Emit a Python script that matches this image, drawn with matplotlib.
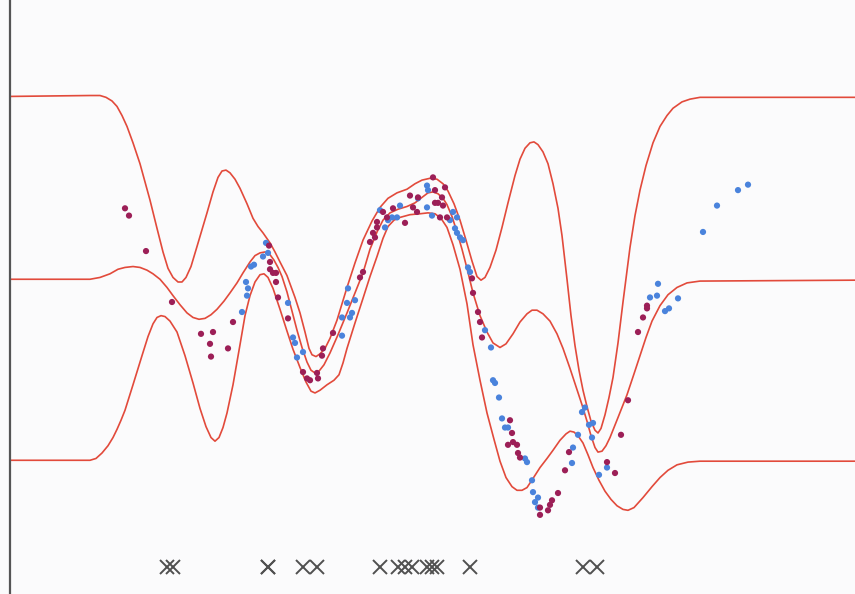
import numpy as np
import matplotlib
matplotlib.use("Agg")
import matplotlib.pyplot as plt

# ----------------------------
# Values
# ----------------------------
# predictive mean
mean_x = [0, 0.80, 0.90, 1.00, 1.08, 1.15, 1.23, 1.30, 1.37, 1.43, 1.50, 1.57, 1.63, 1.70,
          1.77, 1.83, 1.89, 1.95, 2.01, 2.07, 2.14, 2.20, 2.27, 2.33, 2.40, 2.45, 2.50, 2.55,
          2.60, 2.64, 2.68, 2.72, 2.77, 2.82, 2.87, 2.92, 2.97, 3.01, 3.05, 3.09, 3.14, 3.20,
          3.28, 3.37, 3.45, 3.53, 3.60, 3.67, 3.73, 3.80, 3.88, 3.97, 4.05, 4.12, 4.18, 4.23,
          4.28, 4.33, 4.37, 4.42, 4.47, 4.52, 4.57, 4.63, 4.70, 4.77, 4.83, 4.90, 4.96, 5.03,
          5.10, 5.17, 5.22, 5.27, 5.33, 5.40, 5.47, 5.53, 5.60, 5.66, 5.72, 5.77, 5.81, 5.85,
          5.88, 5.92, 5.96, 6.00, 6.08, 6.17, 6.24, 6.30, 6.36, 6.42, 6.50, 6.58, 6.67, 6.77,
          6.90, 8.45]
mean_y = [0, 0.00, 0.02, 0.06, 0.11, 0.13, 0.14, 0.13, 0.10, 0.06, 0.00, -0.09, -0.18, -0.28,
          -0.37, -0.42, -0.44, -0.43, -0.39, -0.33, -0.24, -0.15, -0.04, 0.07, 0.19, 0.26, 0.29, 0.30,
          0.27, 0.21, 0.13, 0.03, -0.14, -0.35, -0.56, -0.75, -0.91, -1.00, -1.03, -1.01, -0.94, -0.81,
          -0.61, -0.37, -0.15, 0.07, 0.33, 0.52, 0.65, 0.73, 0.77, 0.80, 0.84, 0.90, 0.95, 0.96,
          0.94, 0.89, 0.82, 0.69, 0.52, 0.33, 0.12, -0.15, -0.40, -0.58, -0.70, -0.75, -0.71, -0.60,
          -0.47, -0.38, -0.34, -0.34, -0.38, -0.46, -0.60, -0.76, -0.98, -1.18, -1.38, -1.56, -1.72, -1.85,
          -1.90, -1.89, -1.83, -1.74, -1.52, -1.27, -1.04, -0.84, -0.64, -0.46, -0.29, -0.17, -0.09, -0.04,
          -0.02, -0.01]

# upper 2-sigma line
upper_x = [0, 0.80, 0.90, 0.96, 1.02, 1.07, 1.12, 1.17, 1.23, 1.30, 1.40, 1.47, 1.53, 1.58,
           1.63, 1.68, 1.72, 1.76, 1.81, 1.87, 1.97, 2.03, 2.08, 2.12, 2.16, 2.20, 2.25, 2.30,
           2.37, 2.43, 2.48, 2.53, 2.60, 2.65, 2.70, 2.77, 2.85, 2.90, 2.95, 2.99, 3.02, 3.06,
           3.10, 3.15, 3.20, 3.27, 3.37, 3.45, 3.53, 3.62, 3.70, 3.78, 3.87, 3.97, 4.05, 4.12,
           4.20, 4.27, 4.33, 4.38, 4.44, 4.50, 4.56, 4.62, 4.67, 4.71, 4.75, 4.80, 4.86, 4.92,
           4.98, 5.05, 5.10, 5.15, 5.20, 5.24, 5.28, 5.33, 5.38, 5.43, 5.48, 5.52, 5.57, 5.61,
           5.65, 5.69, 5.73, 5.77, 5.81, 5.85, 5.88, 5.91, 5.95, 5.99, 6.03, 6.08, 6.13, 6.20,
           6.25, 6.30, 6.36, 6.43, 6.50, 6.57, 6.63, 6.72, 6.80, 6.90, 8.45]
upper_y = [2.01, 2.02, 2.02, 2.00, 1.96, 1.90, 1.80, 1.68, 1.50, 1.27, 0.87, 0.56, 0.30, 0.12,
           0.02, -0.03, -0.03, 0.02, 0.14, 0.36, 0.73, 0.96, 1.12, 1.19, 1.20, 1.17, 1.10, 1.00,
           0.83, 0.67, 0.58, 0.51, 0.40, 0.30, 0.19, 0.04, -0.20, -0.37, -0.58, -0.76, -0.83, -0.85,
           -0.82, -0.76, -0.65, -0.45, -0.09, 0.18, 0.43, 0.64, 0.79, 0.89, 0.95, 0.99, 1.05, 1.09,
           1.11, 1.10, 1.05, 0.97, 0.83, 0.65, 0.43, 0.20, 0.03, -0.01, 0.02, 0.13, 0.32, 0.57,
           0.84, 1.14, 1.32, 1.44, 1.50, 1.51, 1.48, 1.40, 1.27, 1.05, 0.78, 0.48, 0.00, -0.40,
           -0.73, -1.00, -1.22, -1.40, -1.56, -1.66, -1.69, -1.64, -1.49, -1.30, -1.08, -0.70, -0.25, 0.35,
           0.70, 0.98, 1.25, 1.50, 1.68, 1.80, 1.88, 1.95, 1.98, 2.00, 2.00]

# lower 2-sigma line
lower_x = [0, 0.80, 0.86, 0.92, 0.98, 1.03, 1.07, 1.11, 1.15, 1.23, 1.32, 1.38, 1.43, 1.47,
           1.51, 1.55, 1.60, 1.67, 1.75, 1.83, 1.90, 1.96, 2.01, 2.05, 2.09, 2.13, 2.17, 2.23,
           2.30, 2.35, 2.40, 2.45, 2.50, 2.54, 2.58, 2.63, 2.70, 2.77, 2.83, 2.90, 2.96, 3.01,
           3.05, 3.10, 3.17, 3.24, 3.29, 3.33, 3.37, 3.45, 3.53, 3.60, 3.67, 3.73, 3.78, 3.84,
           3.90, 4.00, 4.10, 4.18, 4.25, 4.31, 4.37, 4.43, 4.50, 4.57, 4.63, 4.70, 4.77, 4.84,
           4.90, 4.96, 5.02, 5.07, 5.12, 5.17, 5.23, 5.30, 5.37, 5.43, 5.50, 5.56, 5.60, 5.64,
           5.68, 5.73, 5.78, 5.83, 5.89, 5.95, 6.01, 6.07, 6.13, 6.18, 6.24, 6.33, 6.42, 6.50,
           6.58, 6.67, 6.78, 6.90, 8.45]
lower_y = [-1.99, -1.99, -1.97, -1.91, -1.83, -1.74, -1.65, -1.55, -1.44, -1.16, -0.84, -0.63, -0.49, -0.42,
           -0.40, -0.41, -0.46, -0.58, -0.84, -1.14, -1.42, -1.62, -1.74, -1.78, -1.74, -1.63, -1.47, -1.16,
           -0.72, -0.40, -0.18, -0.03, 0.05, 0.06, 0.02, -0.10, -0.33, -0.57, -0.77, -0.97, -1.13, -1.23,
           -1.25, -1.22, -1.16, -1.11, -1.05, -0.92, -0.76, -0.48, -0.21, 0.03, 0.25, 0.45, 0.58, 0.65,
           0.68, 0.71, 0.72, 0.73, 0.72, 0.67, 0.57, 0.38, 0.11, -0.27, -0.72, -1.11, -1.47, -1.76,
           -2.00, -2.18, -2.28, -2.32, -2.32, -2.29, -2.19, -2.07, -1.97, -1.88, -1.77, -1.70, -1.67, -1.68,
           -1.72, -1.80, -1.93, -2.07, -2.21, -2.33, -2.42, -2.49, -2.53, -2.54, -2.51, -2.40, -2.28, -2.18,
           -2.10, -2.04, -2.01, -2.00, -2.00]

# training data (purple) and test data (blue)
train_x = [1.15, 1.19, 1.36, 1.62, 1.91, 2.03, 2.00, 2.01, 2.18, 2.23, 2.59, 2.60, 2.60, 2.63,
           2.66, 2.66, 2.68, 2.78, 2.93, 2.97, 3.00, 3.07, 3.08, 3.12, 3.13, 3.23, 3.50, 3.53,
           3.60, 3.63, 3.65, 3.67, 3.67, 3.73, 3.77, 3.83, 3.95, 4.00, 4.03, 4.07, 4.08, 4.23,
           4.25, 4.35, 4.32, 4.25, 4.28, 4.33, 4.30, 4.37, 4.62, 4.63, 4.68, 4.70, 4.72, 5.00,
           5.02, 4.98, 5.03, 5.07, 5.08, 5.10, 5.30, 5.30, 5.40, 5.38, 5.42, 5.48, 5.55, 5.59,
           5.97, 6.05, 6.11, 6.18, 6.28, 6.33, 6.37, 6.37]
train_y = [0.78, 0.70, 0.31, -0.25, -0.60, -0.58, -0.71, -0.85, -0.76, -0.47, 0.37, 0.19, 0.11, 0.07,
           0.07, -0.03, -0.20, -0.43, -1.02, -1.09, -1.11, -1.03, -1.09, -0.84, -0.76, -0.59, 0.02, 0.08,
           0.41, 0.51, 0.46, 0.57, 0.63, 0.74, 0.68, 0.78, 0.62, 0.92, 0.79, 0.74, 0.90, 1.12,
           0.98, 1.01, 0.90, 0.84, 0.84, 0.81, 0.68, 0.68, 0.01, -0.15, -0.36, -0.47, -0.64, -1.55,
           -1.69, -1.82, -1.79, -1.82, -1.91, -1.96, -2.51, -2.59, -2.48, -2.54, -2.43, -2.35, -2.10, -1.90,
           -2.01, -2.13, -1.71, -1.33, -0.58, -0.42, -0.32, -0.29]

test_x = [2.32, 2.37, 2.36, 2.38, 2.41, 2.44, 2.53, 2.56, 2.58, 2.78, 2.83, 2.85, 2.87, 2.93,
          3.32, 3.32, 3.37, 3.38, 3.40, 3.42, 3.45, 3.70, 3.75, 3.78, 3.82, 3.87, 3.90, 4.08,
          4.17, 4.17, 4.18, 4.22, 4.40, 4.43, 4.47, 4.45, 4.47, 4.50, 4.53, 4.58, 4.60, 4.75,
          4.81, 4.83, 4.85, 4.89, 4.92, 4.95, 4.98, 5.15, 5.17, 5.22, 5.23, 5.28, 5.25, 5.28,
          5.62, 5.63, 5.68, 5.72, 5.75, 5.79, 5.83, 5.82, 5.89, 5.97, 6.40, 6.47, 6.48, 6.55,
          6.59, 6.68, 6.93, 7.07, 7.28, 7.38]
test_y = [-0.36, -0.18, -0.03, -0.10, 0.14, 0.16, 0.25, 0.40, 0.29, -0.26, -0.64, -0.70, -0.86, -0.80,
          -0.62, -0.42, -0.26, -0.10, -0.42, -0.37, -0.23, 0.76, 0.57, 0.65, 0.68, 0.68, 0.81, 0.89,
          1.03, 0.79, 0.98, 0.70, 0.65, 0.74, 0.68, 0.56, 0.51, 0.46, 0.43, 0.13, 0.08, -0.56,
          -0.75, -1.11, -1.14, -1.30, -1.53, -1.63, -1.63, -1.97, -2.01, -2.21, -2.34, -2.40, -2.45, -2.51,
          -2.02, -1.85, -1.71, -1.46, -1.41, -1.60, -1.58, -1.74, -2.15, -2.07, -0.20, -0.18, -0.05, -0.35,
          -0.32, -0.21, 0.52, 0.81, 0.98, 1.04]

# inducing input locations
inducing_x = [1.57, 1.63, 2.58, 2.58, 2.93, 3.07, 3.70, 3.88, 3.95, 4.02, 4.17, 4.22, 4.27,
              4.60, 5.73, 5.87]
inducing_level = -3.16

# ----------------------------
# Plot
# ----------------------------
bg = "#fbfbfc"
red = "#e24a3b"

fig = plt.figure(figsize=(8.55, 5.94), dpi=100, facecolor=bg)
ax = fig.add_axes([10 / 855, 0, 845 / 855, 1], facecolor=bg)

for xs, ys in [(upper_x, upper_y), (mean_x, mean_y), (lower_x, lower_y)]:
    ax.plot(xs, ys, color=red, lw=1.2, solid_joinstyle="round")

ax.scatter(test_x, test_y, s=20, color="#4a83dc", edgecolors="none", zorder=3)
ax.scatter(train_x, train_y, s=20, color="#9c1f57", edgecolors="none", zorder=3)

ax.plot(inducing_x, [inducing_level] * len(inducing_x), linestyle="none",
        marker="x", markersize=10, mew=1.4, color="#505050")

ax.set_xlim(0, 8.45)
ax.set_ylim(-3.46, 3.07)
for side in ["top", "right", "bottom"]:
    ax.spines[side].set_visible(False)
ax.spines["left"].set_color("#555555")
ax.spines["left"].set_linewidth(1.6)
ax.set_xticks([])
ax.set_yticks([])

fig.savefig("out.png", dpi=100, facecolor=bg)
